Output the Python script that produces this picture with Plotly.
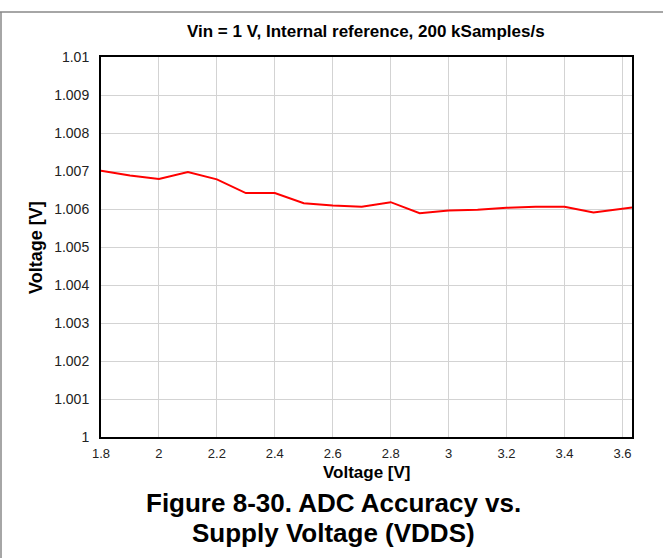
import plotly.graph_objects as go

supply_v = [1.8, 1.9, 2.0, 2.1, 2.2, 2.3, 2.4, 2.5, 2.6, 2.7, 2.8, 2.9, 3.0, 3.1, 3.2, 3.3, 3.4, 3.5, 3.633]
measured_v = [1.00701, 1.00688, 1.00679, 1.00697, 1.00678, 1.00642, 1.00642, 1.00615, 1.00609, 1.00606,
              1.00618, 1.00589, 1.00596, 1.00598, 1.00603, 1.00606, 1.00606, 1.00591, 1.00604]
x_ticks = [1.8, 2.0, 2.2, 2.4, 2.6, 2.8, 3.0, 3.2, 3.4, 3.6]
x_tick_text = ["1.8", "2", "2.2", "2.4", "2.6", "2.8", "3", "3.2", "3.4", "3.6"]
y_ticks = [1.0, 1.001, 1.002, 1.003, 1.004, 1.005, 1.006, 1.007, 1.008, 1.009, 1.01]
y_tick_text = ["1", "1.001", "1.002", "1.003", "1.004", "1.005", "1.006", "1.007", "1.008", "1.009", "1.01"]

FONT = "Liberation Sans, Arial, sans-serif"

fig = go.Figure()
fig.add_trace(go.Scatter(x=supply_v, y=measured_v, mode="lines",
                         line=dict(color="#ff0000", width=2), showlegend=False))

L, R, T, B = 101, 31, 57, 121
W, H = 663, 558
pw, ph = W - L - R, H - T - B

def py(p):
    return (H - B - p) / ph

def px(p):
    return (p - L) / pw

fig.update_layout(
    width=W, height=H,
    margin=dict(l=L, r=R, t=T, b=B, pad=0),
    paper_bgcolor="white", plot_bgcolor="white",
    font=dict(family=FONT, size=14, color="#222"),
    xaxis=dict(range=[1.8, 3.633], tickvals=x_ticks, ticktext=x_tick_text,
               showgrid=True, gridcolor="#d3d3d3", gridwidth=1,
               showline=True, linecolor="black", linewidth=2, mirror=True,
               ticks="", zeroline=False, ticklabelstandoff=3,
               tickfont=dict(size=13, color="#222")),
    yaxis=dict(range=[1.0, 1.01], tickvals=y_ticks, ticktext=y_tick_text,
               showgrid=True, gridcolor="#d3d3d3", gridwidth=1,
               showline=True, linecolor="black", linewidth=2, mirror=True,
               ticks="", zeroline=False, ticklabelstandoff=7,
               tickfont=dict(size=14, color="#222")),
)

def label(text, x, y, size, angle=0):
    fig.add_annotation(text=f"<b>{text}</b>", xref="paper", yref="paper",
                       x=px(x), y=py(y), xanchor="center", yanchor="middle",
                       showarrow=False, textangle=angle,
                       font=dict(size=size, color="black", family=FONT))

label("Vin = 1 V, Internal reference, 200 kSamples/s", 366, 32, 17)
label("Voltage [V]", 367, 472, 17)
label("Voltage [V]", 36, 248, 18, angle=-90)
label("Figure 8-30. ADC Accuracy vs.", 333, 503, 26)
label("Supply Voltage (VDDS)", 333, 533, 26)

# outer frame lines (top and left)
fig.add_shape(type="line", xref="paper", yref="paper", x0=px(0), x1=px(W), y0=py(12), y1=py(12),
              line=dict(color="#888888", width=1.5))
fig.add_shape(type="line", xref="paper", yref="paper", x0=px(1), x1=px(1), y0=py(12), y1=py(H),
              line=dict(color="#888888", width=1.5))

fig.write_html("out.html", config={"displayModeBar": False},
               post_script="document.body.style.margin='0px';")
